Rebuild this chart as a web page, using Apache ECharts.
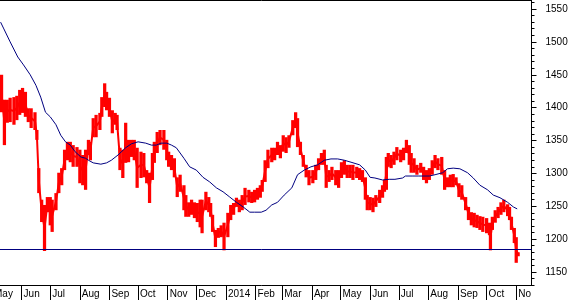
<!DOCTYPE html>
<html>
<head>
<meta charset="utf-8">
<script src="https://cdn.jsdelivr.net/npm/echarts@6/dist/echarts.min.js"></script>
<style>
html,body{margin:0;padding:0;background:#fff;overflow:hidden;width:572px;height:300px;}
#chart{width:581px;height:300px;margin-left:-9px;}
</style>
</head>
<body>
<div id="chart"></div>
<script>
// ---- price bars (daily high / low samples) ----
const dates = [
'2013-05-11','2013-05-14','2013-05-17','2013-05-20','2013-05-24','2013-05-27','2013-05-30','2013-06-02','2013-06-05','2013-06-08',
'2013-06-11','2013-06-15','2013-06-17','2013-06-19','2013-06-22','2013-06-25','2013-06-28','2013-07-01','2013-07-03','2013-07-07',
'2013-07-10','2013-07-13','2013-07-16','2013-07-19','2013-07-22','2013-07-25','2013-07-29','2013-08-01','2013-08-04','2013-08-07',
'2013-08-10','2013-08-12','2013-08-15','2013-08-18','2013-08-22','2013-08-24','2013-08-27','2013-08-29','2013-09-01','2013-09-04',
'2013-09-07','2013-09-09','2013-09-12','2013-09-15','2013-09-18','2013-09-21','2013-09-24','2013-09-27','2013-09-30','2013-10-04',
'2013-10-07','2013-10-10','2013-10-13','2013-10-16','2013-10-18','2013-10-21','2013-10-24','2013-10-28','2013-10-31','2013-11-02',
'2013-11-05','2013-11-08','2013-11-11','2013-11-14','2013-11-18','2013-11-20','2013-11-23','2013-11-26','2013-11-29','2013-12-02',
'2013-12-05','2013-12-07','2013-12-11','2013-12-14','2013-12-16','2013-12-18','2013-12-21','2013-12-24','2013-12-27','2013-12-30',
'2014-01-03','2014-01-06','2014-01-09','2014-01-12','2014-01-15','2014-01-18','2014-01-21','2014-01-25','2014-01-28','2014-01-31',
'2014-02-03','2014-02-06','2014-02-08','2014-02-11','2014-02-14','2014-02-18','2014-02-21','2014-02-24','2014-02-27','2014-03-02',
'2014-03-05','2014-03-08','2014-03-12','2014-03-15','2014-03-17','2014-03-20','2014-03-23','2014-03-26','2014-03-29','2014-04-02',
'2014-04-05','2014-04-08','2014-04-11','2014-04-14','2014-04-16','2014-04-19','2014-04-22','2014-04-26','2014-04-29','2014-05-02',
'2014-05-05','2014-05-08','2014-05-11','2014-05-14','2014-05-18','2014-05-21','2014-05-24','2014-05-27','2014-05-29','2014-06-01',
'2014-06-04','2014-06-07','2014-06-11','2014-06-14','2014-06-16','2014-06-18','2014-06-20','2014-06-23','2014-06-26','2014-06-29',
'2014-07-03','2014-07-06','2014-07-09','2014-07-12','2014-07-14','2014-07-17','2014-07-20','2014-07-24','2014-07-27','2014-07-30',
'2014-08-02','2014-08-05','2014-08-08','2014-08-11','2014-08-15','2014-08-18','2014-08-21','2014-08-24','2014-08-27','2014-08-30',
'2014-09-02','2014-09-05','2014-09-09','2014-09-12','2014-09-15','2014-09-18','2014-09-21','2014-09-24','2014-09-27','2014-10-01',
'2014-10-04','2014-10-05','2014-10-07','2014-10-10','2014-10-13','2014-10-16','2014-10-19','2014-10-23','2014-10-25','2014-10-27',
'2014-10-30','2014-11-01','2014-11-03'
];
const highs = [
1450,1412,1412,1415,1416,1418,1427,1430,1424,1399,
1399,1393,1366,1308,1260,1252,1264,1264,1260,1270,
1301,1308,1336,1348,1348,1343,1340,1336,1328,1336,
1351,1348,1384,1389,1392,1416,1437,1424,1415,1396,
1392,1389,1339,1336,1377,1351,1351,1351,1339,1333,
1331,1305,1301,1331,1348,1363,1366,1366,1351,1333,
1328,1323,1294,1298,1282,1267,1256,1260,1256,1255,
1260,1260,1272,1264,1255,1237,1214,1217,1221,1225,
1240,1252,1255,1263,1260,1267,1278,1275,1272,1275,
1278,1282,1290,1320,1336,1339,1339,1348,1343,1358,
1355,1358,1381,1393,1384,1348,1328,1313,1305,1305,
1313,1323,1331,1336,1313,1305,1310,1305,1305,1317,
1320,1313,1313,1313,1310,1308,1305,1294,1267,1264,
1263,1267,1275,1282,1290,1325,1331,1328,1333,1340,
1336,1339,1351,1343,1331,1323,1313,1316,1310,1305,
1308,1320,1328,1323,1325,1305,1294,1298,1299,1294,
1285,1282,1264,1249,1241,1240,1237,1235,1234,1232,
1225,1221,1234,1244,1249,1256,1260,1253,1249,1234,
1217,1203,1180
];
const lows = [
1393,1343,1377,1378,1374,1381,1389,1392,1386,1378,
1369,1366,1351,1270,1226,1182,1241,1221,1211,1244,
1270,1282,1305,1320,1317,1310,1310,1285,1282,1275,
1328,1320,1355,1355,1366,1386,1401,1396,1386,1361,
1374,1366,1305,1293,1316,1317,1325,1320,1278,1293,
1294,1285,1255,1290,1316,1331,1343,1336,1320,1310,
1305,1294,1264,1272,1244,1234,1234,1237,1232,1226,
1218,1209,1244,1241,1234,1211,1188,1202,1203,1183,
1203,1229,1237,1249,1241,1244,1252,1256,1255,1256,
1260,1263,1272,1287,1308,1317,1320,1328,1323,1333,
1331,1339,1358,1369,1340,1328,1310,1294,1282,1285,
1290,1305,1313,1313,1278,1287,1290,1282,1278,1293,
1298,1293,1293,1290,1293,1290,1287,1260,1244,1244,
1241,1249,1255,1263,1272,1275,1310,1308,1313,1320,
1317,1320,1331,1313,1301,1301,1298,1301,1290,1285,
1290,1298,1308,1305,1298,1275,1279,1279,1279,1282,
1264,1260,1244,1229,1221,1218,1217,1214,1211,1209,
1206,1183,1214,1225,1232,1237,1241,1235,1229,1214,
1194,1164,1174
];

// ---- moving average ----
const maDates = [
'2013-05-10','2013-05-13','2013-05-20','2013-05-28','2013-06-03','2013-06-10','2013-06-16','2013-06-21','2013-06-26','2013-07-01',
'2013-07-07','2013-07-12','2013-07-17','2013-07-22','2013-07-27','2013-08-02','2013-08-07','2013-08-10','2013-08-15','2013-08-23',
'2013-08-29','2013-09-03','2013-09-10','2013-09-18','2013-09-24','2013-10-01','2013-10-09','2013-10-15','2013-10-20','2013-10-25',
'2013-10-31','2013-11-05','2013-11-10','2013-11-18','2013-11-24','2013-12-01','2013-12-08','2013-12-15','2013-12-22','2013-12-29',
'2014-01-05','2014-01-12','2014-01-19','2014-01-26','2014-01-31','2014-02-07','2014-02-12','2014-02-18','2014-02-24','2014-03-03',
'2014-03-11','2014-03-17','2014-03-24','2014-03-31','2014-04-07','2014-04-14','2014-04-21','2014-04-28','2014-05-05','2014-05-12',
'2014-05-21','2014-05-27','2014-06-01','2014-06-06','2014-06-14','2014-06-21','2014-06-27','2014-07-05','2014-07-08','2014-07-15',
'2014-07-22','2014-08-02','2014-08-08','2014-08-16','2014-08-21','2014-08-27','2014-09-03','2014-09-11','2014-09-17','2014-09-24',
'2014-10-02','2014-10-08','2014-10-15','2014-10-23','2014-10-29','2014-11-02'
];
const maValues = [
1530,1521,1500,1477,1465,1450,1434,1416,1393,1386,
1374,1358,1348,1343,1333,1325,1323,1320,1316,1314,
1316,1320,1328,1339,1345,1348,1346,1343,1343,1346,
1346,1343,1339,1323,1310,1305,1294,1287,1278,1272,
1264,1256,1249,1241,1241,1241,1244,1252,1256,1267,
1278,1298,1305,1310,1313,1320,1322,1322,1320,1317,
1313,1305,1294,1293,1290,1291,1291,1293,1296,1296,
1296,1296,1298,1301,1307,1308,1307,1301,1293,1282,
1275,1267,1263,1256,1249,1246
];

// ---- horizontal support line ----
const supportLevel = 1184;

// ---- axes ----
const monthTicks = [
'2013-05-01','2013-06-01','2013-07-01','2013-08-01','2013-09-01','2013-10-01','2013-11-01','2013-12-01',
'2014-01-01','2014-02-01','2014-03-01','2014-04-01','2014-05-01','2014-06-01','2014-07-01','2014-08-01',
'2014-09-01','2014-10-01','2014-11-01'
];
const monthLabels = ['May','Jun','Jul','Aug','Sep','Oct','Nov','Dec','2014','Feb','Mar','Apr','May','Jun','Jul','Aug','Sep','Oct','No'];
const yTickLabels = [1150,1200,1250,1300,1350,1400,1450,1500,1550];
const xMin = '2013-05-01', xMax = '2014-11-17';
const yMin = 1129.5, yMax = 1563.7;

function ts(s){ const p = s.split('-').map(Number); return Date.UTC(p[0], p[1]-1, p[2]); }

const tickTimes = monthTicks.map(ts);
const yMinor = [];
for (let v = 1130; v <= 1560; v += 10) if (v % 50 !== 0) yMinor.push(v);

const barData = dates.map((d, i) => [ts(d), highs[i], lows[i]]);
const connData = dates.map((d, i) => [ts(d), (highs[i] + lows[i]) / 2]);
const maData = maDates.map((d, i) => [ts(d), maValues[i]]);

const FONT = '"Liberation Sans", Arial, sans-serif';
const chart = echarts.init(document.getElementById('chart'), null, {renderer: 'canvas'});
chart.setOption({
  animation: false,
  backgroundColor: '#ffffff',
  grid: {left: 0.4, right: 40.5, top: 0, bottom: 14.5, containLabel: false},
  xAxis: [{
    type: 'value', min: ts(xMin), max: ts(xMax),
    axisLine: {show: true, onZero: false, lineStyle: {color: '#000', width: 1}},
    axisTick: {show: true, customValues: tickTimes, length: 15, lineStyle: {color: '#000', width: 1}},
    axisLabel: {
      customValues: tickTimes, align: 'left', margin: 4, padding: [0, 0, 0, 2],
      fontSize: 10, fontFamily: FONT, color: '#000',
      formatter: function (v) { const i = tickTimes.indexOf(v); return i >= 0 ? monthLabels[i] : ''; }
    },
    splitLine: {show: false}
  }, {
    type: 'value', position: 'top', min: ts(xMin), max: ts(xMax),
    axisLine: {show: true, onZero: false, lineStyle: {color: '#000', width: 1}},
    axisTick: {show: false}, axisLabel: {show: false}, splitLine: {show: false}
  }],
  yAxis: [{
    type: 'value', position: 'right', min: yMin, max: yMax,
    axisLine: {show: true, onZero: false, lineStyle: {color: '#000', width: 1}},
    axisTick: {show: true, customValues: yTickLabels, length: 5, lineStyle: {color: '#000'}},
    axisLabel: {customValues: yTickLabels, margin: 14, align: 'left', fontSize: 10, fontFamily: FONT, color: '#000',
      formatter: function (v) { return String(v); }},
    splitLine: {show: false}
  }, {
    type: 'value', position: 'right', min: yMin, max: yMax,
    axisLine: {show: false},
    axisTick: {show: true, customValues: yMinor, length: 3, lineStyle: {color: '#000'}},
    axisLabel: {show: false},
    splitLine: {show: false}
  }],
  series: [{
    type: 'line',
    xAxisIndex: 0, yAxisIndex: 0,
    data: connData,
    showSymbol: false, symbol: 'none',
    lineStyle: {color: '#ff0000', width: 2},
    z: 2
  }, {
    type: 'custom',
    xAxisIndex: 0, yAxisIndex: 0,
    encode: {x: 0, y: [1, 2]},
    data: barData,
    z: 2,
    renderItem: function (params, api) {
      const x = api.value(0);
      const top = api.coord([x, api.value(1)]);
      const bot = api.coord([x, api.value(2)]);
      const w = api.size([3.4 * 86400000, 0])[0];
      return {type: 'rect', shape: {x: top[0] - w / 2, y: top[1], width: w, height: bot[1] - top[1]},
        style: {fill: '#ff0000'}};
    }
  }, {
    type: 'line',
    xAxisIndex: 0, yAxisIndex: 0,
    data: maData,
    showSymbol: false, symbol: 'none',
    lineStyle: {color: '#000080', width: 1},
    z: 3,
    markLine: {
      silent: true, symbol: ['none', 'none'], label: {show: false},
      lineStyle: {color: '#000080', width: 1, type: 'solid'},
      data: [{yAxis: supportLevel}]
    }
  }]
});
</script>
</body>
</html>
